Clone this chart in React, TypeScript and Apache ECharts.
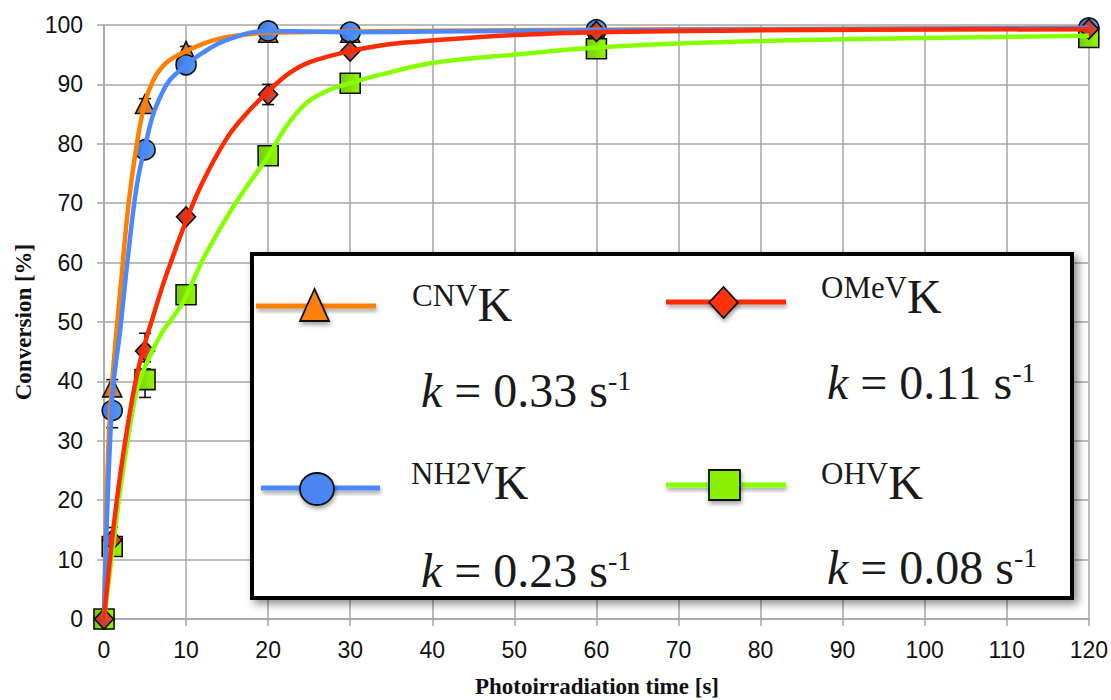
import React, { useEffect, useRef } from 'react';
import * as echarts from 'echarts';

// ---- data ----
const timePoints = [0, 1, 5, 10, 20, 30, 60, 120];

const cnvValues = [0, 39.0, 86.7, 95.6, 98.7, 98.7, 98.8, 99.4];
const nh2vValues = [0, 35.1, 79.0, 93.3, 99.0, 98.8, 99.2, 99.5];
const omevValues = [0, 13.3, 45.1, 67.7, 88.3, 95.6, 98.9, 99.3];
const ohvValues = [0, 12.2, 40.3, 54.6, 78.0, 90.2, 96.0, 97.9];

const cnvErrors = [0, 1.3, 0.9, 0.8, 0, 0, 0, 0];
const nh2vErrors = [0, 2.9, 0, 0, 0, 0, 0, 0];
const omevErrors = [0, 2.1, 3.0, 0, 1.7, 0, 0, 0];
const ohvErrors = [0, 0, 3.0, 0, 0, 0, 0, 0];

// fitted curves
const cnvCurveT = [0, 0.5, 1, 2, 3, 4, 5, 6, 7, 8, 10, 12, 15, 20, 30, 60, 120];
const cnvCurveV = [0, 28, 40, 55.5, 70, 80, 87, 90.7, 92.8, 94.1, 95.6, 96.8, 98, 98.7, 98.9, 99.2, 99.5];
const nh2vCurveT = [0, 1, 2, 3, 4, 5, 6, 7, 8, 10, 12, 15, 20, 25, 30, 40, 60, 120];
const nh2vCurveV = [0, 37, 49, 62, 73, 79.5, 85, 88.3, 90.7, 93.2, 95.3, 97.5, 99, 98.9, 98.8, 98.9, 99.1, 99.5];
const omevCurveT = [0, 1, 2, 3, 4, 5, 6, 7, 8, 10, 12, 15, 17.5, 20, 22.5, 25, 30, 35, 40, 50, 60, 80, 120];
const omevCurveV = [0, 13.5, 24.5, 33.5, 41, 46.5, 51, 55.5, 59.5, 67, 73.5, 81, 85.3, 88.8, 91.8, 93.7, 95.6, 96.8, 97.4, 98.3, 98.8, 99.1, 99.3];
const ohvCurveT = [0, 1, 2, 3, 4, 5, 7, 8.2, 9.7, 11.1, 12.3, 15.3, 17.4, 20, 22.2, 24.7, 27.5, 30, 33.6, 40, 50, 60, 70, 90, 120];
const ohvCurveV = [0, 11, 22, 31, 38.5, 42.5, 48.1, 50.4, 53.5, 57.7, 61.2, 68.4, 72.8, 77.9, 82.9, 86.9, 89.1, 90.2, 91.6, 93.6, 95, 96.2, 96.9, 97.6, 98.2];

const seriesNames = ['CNV', 'NH2V', 'OMeV', 'OHV'];
const rateConstants = ['0.33', '0.23', '0.11', '0.08'];

const xTitle = 'Photoirradiation time [s]';
const yTitle = 'Conversion [%]';

const SERIF = "'Liberation Serif', 'Times New Roman', serif";
const SANS = "'Liberation Sans', Arial, sans-serif";

const grad = (a: string, b: string) =>
  new echarts.graphic.LinearGradient(0, 0, 1, 0, [
    { offset: 0, color: a },
    { offset: 1, color: b },
  ]);

const pairs = (t: number[], v: number[]) => t.map((x, i) => [x, v[i]]);

function errorData(values: number[], errors: number[]) {
  const out: number[][] = [];
  timePoints.forEach((t, i) => {
    if (errors[i] > 0) out.push([t, values[i] - errors[i], values[i] + errors[i]]);
  });
  return out;
}

export default function App() {
  const ref = useRef<HTMLDivElement>(null);

  useEffect(() => {
    if (!ref.current) return;
    const chart = echarts.init(ref.current, undefined, { renderer: 'svg' });

    const errAll = [
      ...errorData(cnvValues, cnvErrors),
      ...errorData(nh2vValues, nh2vErrors),
      ...errorData(omevValues, omevErrors),
      ...errorData(ohvValues, ohvErrors),
    ];

    const curve = (name: string, t: number[], v: number[], color: string) => ({
      type: 'line',
      name: name + '-fit',
      data: pairs(t, v),
      smooth: 0.4,
      showSymbol: false,
      symbol: 'none',
      lineStyle: { color, width: 4.5 },
      silent: true,
    });

    const markers = (name: string, values: number[], symbol: string, size: any, fill: any) => ({
      type: 'scatter',
      name,
      data: pairs(timePoints, values),
      symbol,
      symbolSize: size,
      itemStyle: { color: fill, borderColor: '#111', borderWidth: 1.6, opacity: 1 },
    });

    const shadow = { shadowBlur: 4, shadowOffsetX: 1, shadowOffsetY: 3, shadowColor: 'rgba(0,0,0,0.35)' };
    const Z = 100;

    const labelText = (x: number, y: number, sup: string) => ({
      type: 'text',
      z: Z,
      style: {
        x,
        y,
        text: `{s|${sup}}{K|K}`,
        align: 'left',
        verticalAlign: 'top',
        rich: {
          s: { fontFamily: SERIF, fontSize: 31, fill: '#1a1a1a', verticalAlign: 'top', lineHeight: 31 },
          K: { fontFamily: SERIF, fontSize: 48, fill: '#1a1a1a', verticalAlign: 'bottom', lineHeight: 48 },
        },
      },
    });

    const kText = (x: number, y: number, val: string) => ({
      type: 'text',
      z: Z,
      style: {
        x,
        y,
        text: `{i|k}{n| = ${val} s}{s|-1}`,
        align: 'left',
        verticalAlign: 'top',
        rich: {
          i: { fontFamily: SERIF, fontStyle: 'italic', fontSize: 48, fill: '#1a1a1a', verticalAlign: 'bottom', lineHeight: 48 },
          n: { fontFamily: SERIF, fontSize: 48, fill: '#1a1a1a', verticalAlign: 'bottom', lineHeight: 48 },
          s: { fontFamily: SERIF, fontSize: 28, fill: '#1a1a1a', verticalAlign: 'top', lineHeight: 28 },
        },
      },
    });

    const legendLine = (x1: number, x2: number, y: number, color: string) => ({
      type: 'rect',
      z: Z,
      shape: { x: x1, y: y - 2.5, width: x2 - x1, height: 5 },
      style: { fill: color, ...shadow },
    });

    const option: any = {
      animation: false,
      backgroundColor: '#ffffff',
      grid: { left: 104, right: 21, top: 25, bottom: 81 },
      xAxis: {
        type: 'value',
        min: 0,
        max: 120,
        interval: 10,
        axisLine: { show: true, lineStyle: { color: '#a6a6a6', width: 1.5 } },
        axisTick: { show: true, length: 7, lineStyle: { color: '#a6a6a6', width: 1.5 } },
        splitLine: { show: true, lineStyle: { color: '#a6a6a6', width: 1.5 } },
        axisLabel: { fontFamily: SANS, fontSize: 23, color: '#111', margin: 19 },
      },
      yAxis: {
        type: 'value',
        min: 0,
        max: 100,
        interval: 10,
        axisLine: { show: true, lineStyle: { color: '#a6a6a6', width: 1.5 } },
        axisTick: { show: true, length: 7, lineStyle: { color: '#a6a6a6', width: 1.5 } },
        splitLine: { show: true, lineStyle: { color: '#a6a6a6', width: 1.5 } },
        axisLabel: { fontFamily: SANS, fontSize: 23, color: '#111', margin: 21 },
      },
      series: [
        {
          type: 'custom',
          name: 'errors',
          data: errAll,
          silent: true,
          renderItem: (params: any, api: any) => {
            const x = api.value(0);
            const lo = api.coord([x, api.value(1)]);
            const hi = api.coord([x, api.value(2)]);
            const hw = 6;
            const st = { stroke: '#111', lineWidth: 1.6 };
            return {
              type: 'group',
              children: [
                { type: 'line', shape: { x1: lo[0], y1: lo[1], x2: hi[0], y2: hi[1] }, style: st },
                { type: 'line', shape: { x1: lo[0] - hw, y1: lo[1], x2: lo[0] + hw, y2: lo[1] }, style: st },
                { type: 'line', shape: { x1: hi[0] - hw, y1: hi[1], x2: hi[0] + hw, y2: hi[1] }, style: st },
              ],
            };
          },
        },
        curve('CNV', cnvCurveT, cnvCurveV, '#ff7f00'),
        markers('CNV', cnvValues, 'triangle', [19, 19], grad('#c46a2a', '#e08a45')),
        curve('NH2V', nh2vCurveT, nh2vCurveV, '#4a88ff'),
        markers('NH2V', nh2vValues, 'circle', 20, grad('#3a78de', '#5a98f2')),
        curve('OHV', ohvCurveT, ohvCurveV, '#86ff00'),
        markers('OHV', ohvValues, 'rect', 20, grad('#74cc10', '#96f500')),
        curve('OMeV', omevCurveT, omevCurveV, '#ff2a00'),
        markers('OMeV', omevValues, 'diamond', [19, 20], grad('#b8322a', '#e04a3a')),
      ],
      graphic: [
        {
          type: 'text',
          z: Z,
          style: { x: 597, y: 686, text: xTitle, align: 'center', verticalAlign: 'middle', fontFamily: SERIF, fontWeight: 'bold', fontSize: 23, fill: '#111' },
        },
        {
          type: 'text',
          z: Z,
          x: 23,
          y: 322,
          rotation: Math.PI / 2,
          style: { x: 0, y: 0, text: yTitle, align: 'center', verticalAlign: 'middle', fontFamily: SERIF, fontWeight: 'bold', fontSize: 23, fill: '#111' },
        },
        {
          type: 'rect',
          z: Z,
          shape: { x: 252, y: 254, width: 820, height: 344 },
          style: { fill: '#ffffff', stroke: '#000', lineWidth: 4, shadowBlur: 8, shadowOffsetX: 4, shadowOffsetY: 4, shadowColor: 'rgba(0,0,0,0.45)' },
        },
        // legend lines
        legendLine(256, 376, 306, '#ff7f00'),
        legendLine(666, 786, 302, '#ff2a00'),
        legendLine(261, 380, 488, '#4a88ff'),
        legendLine(666, 786, 485, '#86ff00'),
        // legend markers
        {
          type: 'polygon',
          z: Z + 1,
          shape: { points: [[314.5, 289], [300, 321], [329, 321]] },
          style: { fill: '#ff7f0f', stroke: '#111', lineWidth: 1.8, ...shadow },
        },
        {
          type: 'polygon',
          z: Z + 1,
          shape: { points: [[723.5, 287], [737.8, 302.5], [723.5, 318], [709.2, 302.5]] },
          style: { fill: '#ff3311', stroke: '#111', lineWidth: 1.8, ...shadow },
        },
        {
          type: 'ellipse',
          z: Z + 1,
          shape: { cx: 317, cy: 489, rx: 17, ry: 16 },
          style: { fill: '#4a86f0', stroke: '#111', lineWidth: 1.8, ...shadow },
        },
        {
          type: 'rect',
          z: Z + 1,
          shape: { x: 709, y: 470, width: 31, height: 30 },
          style: { fill: '#88f000', stroke: '#111', lineWidth: 1.8, ...shadow },
        },
        // legend labels
        labelText(412, 280, seriesNames[0]),
        labelText(821, 272, seriesNames[2]),
        labelText(411, 458, seriesNames[1]),
        labelText(821, 458, seriesNames[3]),
        kText(421, 366, rateConstants[0]),
        kText(827, 358, rateConstants[2]),
        kText(421, 546, rateConstants[1]),
        kText(827, 543, rateConstants[3]),
      ],
    };

    chart.setOption(option);
    return () => chart.dispose();
  }, []);

  return (
    <div
      ref={ref}
      style={{ position: 'fixed', left: 0, top: 0, width: 1111, height: 700, background: '#fff' }}
    />
  );
}
